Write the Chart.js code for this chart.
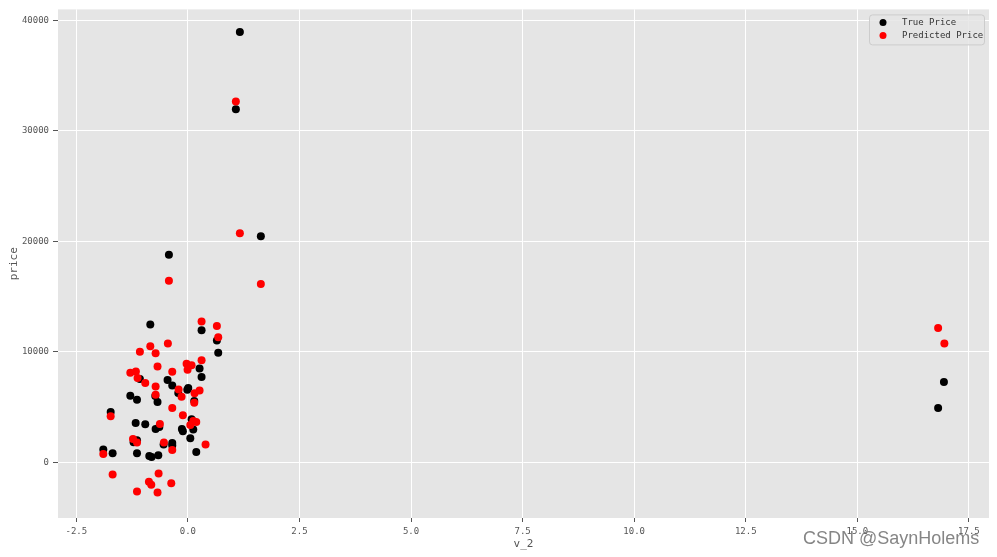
<!DOCTYPE html>
<html>
<head>
<meta charset="utf-8">
<title>True vs Predicted Price</title>
<script src="https://cdn.jsdelivr.net/npm/chart.js@4.4.0/dist/chart.umd.min.js"></script>
<style>
  html, body { margin: 0; padding: 0; background: #fff; }
  #wrap { position: relative; width: 997px; height: 557px; }
  #mark {
    position: absolute; left: 803px; top: 528px;
    font: 18px "Liberation Sans", Arial, sans-serif;
    color: rgba(120, 120, 120, 0.9);
    white-space: nowrap;
  }
</style>
</head>
<body>
<div id="wrap">
  <canvas id="chart" width="997" height="557"></canvas>
  <div id="mark">CSDN @SaynHolems</div>
</div>
<script>
// 数据：真实价格
const trueX = [1.165, 1.075, 1.635, -0.425, 16.94, 16.81,
  -0.842, 0.307, 0.65, 0.68, 0.262, 0.307, -1.075, -0.455, -0.35, -0.013, 0.009,
  -0.215, -0.73, -1.29, -1.14, -0.68, 0.143, -1.73, -1.17, -0.955, -0.723, -0.64,
  0.083, -0.134, -0.112, 0.121, 0.054, -1.14, -1.216, -0.35, -0.544, -0.35,
  -1.895, -1.686, -1.14, 0.188, -0.865, -0.813, -0.663];
const trueY = [38926, 31950, 20460, 18770, 7250, 4900,
  12455, 11940, 11010, 9900, 8484, 7700, 7520, 7430, 6950, 6560, 6705,
  6255, 5985, 6020, 5660, 5445, 5530, 4540, 3550, 3430, 3005, 3185,
  3880, 3005, 2800, 2950, 2166, 1985, 1805, 1742, 1597, 1507,
  1146, 812, 812, 930, 570, 480, 630];

// 数据：预测价格
const predX = [1.075, 1.165, -0.425, 1.635, 16.81, 16.95,
  0.307, 0.65, 0.68, -0.448, -0.842, -1.075, -0.723, 0.307, -0.029, 0.083, -0.007,
  -0.68, -0.35, -1.29, -1.165, -1.127, -0.955, -0.723, 0.262, 0.15, -0.208, -0.141,
  -0.723, 0.143, -0.35, -1.73, -0.112, 0.121, 0.188, 0.054, -0.627, -1.23, -1.14,
  -0.537, 0.396, -0.35, -1.895, -1.686, -0.656, -0.873, -0.82, -0.372, -1.14, -0.68];
const predY = [32645, 20730, 16425, 16130, 12155, 10740,
  12725, 12335, 11310, 10740, 10500, 9990, 9865, 9235, 8910, 8780, 8365,
  8665, 8185, 8095, 8213, 7610, 7157, 6860, 6500, 6230, 6590, 5930,
  6110, 5390, 4900, 4150, 4240, 3730, 3640, 3370, 3460, 2105, 1780,
  1780, 1597, 1110, 750, -1110, -1020, -1778, -2050, -1895, -2645, -2735];

// 刻度
const xTicks = [-2.5, 0, 2.5, 5, 7.5, 10, 12.5, 15, 17.5];
const yTicks = [0, 10000, 20000, 30000, 40000];

const toPoints = (xs, ys) => xs.map((x, i) => ({ x: x, y: ys[i] }));

const tickFont = { family: '"DejaVu Sans Mono", monospace', size: 9 };
const titleFont = { family: '"DejaVu Sans Mono", monospace', size: 11 };

// 绘图区背景
const panelBg = {
  id: 'panelBg',
  beforeDraw(chart) {
    const { ctx, chartArea: a } = chart;
    ctx.save();
    ctx.fillStyle = '#E5E5E5';
    ctx.fillRect(a.left, a.top, a.right - a.left, a.bottom - a.top);
    ctx.restore();
  }
};

// 图例画在绘图区右上角
const innerLegend = {
  id: 'innerLegend',
  afterDraw(chart) {
    const { ctx, chartArea: a } = chart;
    const w = 115, h = 30;
    const x = a.right - w - 5, y = a.top + 5;
    ctx.save();
    ctx.fillStyle = 'rgba(229,229,229,0.85)';
    ctx.strokeStyle = '#CCCCCC';
    ctx.lineWidth = 1;
    ctx.beginPath();
    ctx.roundRect(x + 0.5, y + 0.5, w, h, 3);
    ctx.fill();
    ctx.stroke();
    ctx.font = '9px "DejaVu Sans Mono", monospace';
    ctx.textBaseline = 'middle';
    chart.data.datasets.forEach((ds, i) => {
      const cy = y + 8 + i * 13;
      ctx.fillStyle = ds.backgroundColor;
      ctx.beginPath();
      ctx.arc(x + 14, cy, 3.5, 0, Math.PI * 2);
      ctx.fill();
      ctx.fillStyle = '#333';
      ctx.fillText(ds.label, x + 33, cy);
    });
    ctx.restore();
  }
};

new Chart(document.getElementById('chart'), {
  type: 'scatter',
  data: {
    datasets: [
      {
        label: 'True Price',
        data: toPoints(trueX, trueY),
        backgroundColor: '#000000',
        borderWidth: 0,
        pointRadius: 4,
        order: 2
      },
      {
        label: 'Predicted Price',
        data: toPoints(predX, predY),
        backgroundColor: '#FF0000',
        borderWidth: 0,
        pointRadius: 4,
        order: 1
      }
    ]
  },
  options: {
    responsive: false,
    animation: false,
    layout: { padding: { top: 8, right: 8, left: 0, bottom: 0 } },
    plugins: {
      legend: { display: false },
      tooltip: { enabled: false }
    },
    scales: {
      x: {
        type: 'linear',
        min: -2.91,
        max: 17.95,
        afterBuildTicks: (s) => { s.ticks = xTicks.map(v => ({ value: v })); },
        afterFit: (s) => { s.height = 39; },
        border: { display: false },
        grid: { color: '#FFFFFF', lineWidth: 1, tickColor: '#555', tickLength: 4 },
        ticks: {
          color: '#555', font: tickFont, padding: 4, maxRotation: 0,
          callback: (v) => v.toFixed(1)
        },
        title: { display: true, text: 'v_2', color: '#555', font: titleFont, padding: { top: 0, bottom: 6 } }
      },
      y: {
        type: 'linear',
        min: -5050,
        max: 40980,
        afterBuildTicks: (s) => { s.ticks = yTicks.map(v => ({ value: v })); },
        afterFit: (s) => { s.width = 58; },
        border: { display: false },
        grid: { color: '#FFFFFF', lineWidth: 1, tickColor: '#555', tickLength: 5 },
        ticks: {
          color: '#555', font: tickFont, padding: 4,
          callback: (v) => String(v)
        },
        title: { display: true, text: 'price', color: '#555', font: titleFont, padding: { top: 8, bottom: 0 } }
      }
    }
  },
  plugins: [panelBg, innerLegend]
});
</script>
</body>
</html>
